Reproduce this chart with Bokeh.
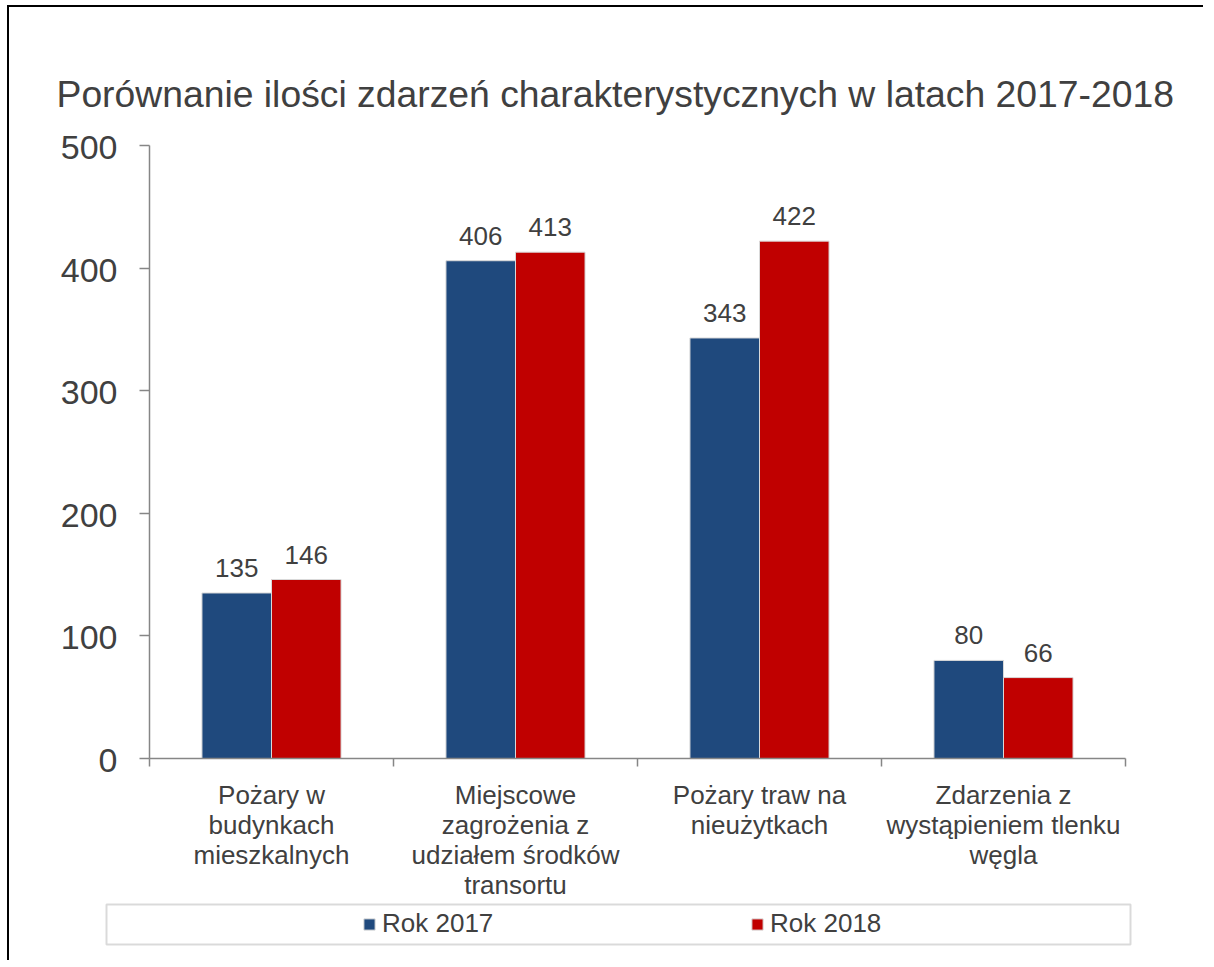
from bokeh.plotting import figure
from bokeh.models import (ColumnDataSource, FixedTicker, Range1d, Legend, LegendItem,
                          BoxAnnotation)
from bokeh.core.properties import value
from bokeh.embed import file_html
from bokeh.resources import INLINE

# ---- data ----
categories = [
    "Pożary w\nbudynkach\nmieszkalnych",
    "Miejscowe\nzagrożenia z\nudziałem środków\ntransortu",
    "Pożary traw na\nnieużytkach",
    "Zdarzenia z\nwystąpieniem tlenku\nwęgla",
]
series_names = ["Rok 2017", "Rok 2018"]
values_2017 = [135, 406, 343, 80]
values_2018 = [146, 413, 422, 66]
y_ticks = [0, 100, 200, 300, 400, 500]
y_tick_labels = ["0", "100", "200", "300", "400", "500"]
y_max = 500

TITLE = "Porównanie ilości zdarzeń charakterystycznych w latach 2017-2018"
FONT = "Liberation Sans"
TXT = "#404040"
AXC = "#868686"
BLUE = "#1F497D"
RED = "#C00000"

# ---- layout (pixels) ----
W, H = 1196, 955
TOP_PAD = 26        # px of frame above the 500 tick
MB_L, MB_T, MB_B = 40, 138 - TOP_PAD, 15
FRAME_W = 1090
MB_R = W - MB_L - FRAME_W
FRAME_H = H - MB_T - MB_B
AX_X0 = 100         # px from frame left to the y axis
CAT_PX = 244        # px per category
PX_PER_UNIT = 613 / y_max

n = len(categories)
x0 = -AX_X0 / CAT_PX
x1 = x0 + FRAME_W / CAT_PX
y1 = y_max + TOP_PAD / PX_PER_UNIT
y0 = y1 - FRAME_H / PX_PER_UNIT

centers = [i + 0.5 for i in range(n)]
bw = 0.285

src17 = ColumnDataSource(dict(x=[c - bw / 2 for c in centers], top=values_2017,
                              lab=[str(v) for v in values_2017]))
src18 = ColumnDataSource(dict(x=[c + bw / 2 for c in centers], top=values_2018,
                              lab=[str(v) for v in values_2018]))
srccat = ColumnDataSource(dict(x=centers, y=[0] * n, lab=categories))
srcy = ColumnDataSource(dict(x=[0] * len(y_ticks), y=y_ticks, lab=y_tick_labels))

p = figure(width=W, height=H, output_backend="svg", toolbar_location=None,
           x_range=Range1d(x0, x1), y_range=Range1d(y0, y1),
           min_border_left=MB_L, min_border_top=MB_T, min_border_right=MB_R,
           min_border_bottom=MB_B,
           background_fill_color="white", border_fill_color="white")
p.outline_line_color = None
p.styles = {"border-left": "2px solid black", "border-top": "2px solid black",
            "margin-left": "7px", "margin-top": "5px"}

p.title.text = TITLE
p.title.text_font = FONT
p.title.text_font_size = "37.3px"
p.title.text_font_style = "normal"
p.title.text_color = TXT
p.title.align = "left"
p.title.offset = 7
p.title.standoff = 9

r17 = p.vbar(x="x", top="top", width=bw, source=src17, fill_color=BLUE,
             line_color="#d9d9d9", line_width=1)
r18 = p.vbar(x="x", top="top", width=bw, source=src18, fill_color=RED,
             line_color="#d9d9d9", line_width=1)

for s in (src17, src18):
    p.text(x="x", y="top", text="lab", source=s, text_align="center",
           text_baseline="middle", y_offset=-25, text_font=value(FONT),
           text_font_size="26px", text_color=TXT)

# category labels under the axis
p.text(x="x", y="y", text="lab", source=srccat, text_align="center",
       text_baseline="top", y_offset=21, text_font=value(FONT),
       text_font_size="26px", text_color=TXT, text_line_height=1.0)

# y tick labels
p.text(x="x", y="y", text="lab", source=srcy, text_align="right",
       text_baseline="middle", x_offset=-32, y_offset=2, text_font=value(FONT),
       text_font_size="34px", text_color=TXT)

p.xgrid.visible = False
p.ygrid.visible = False

# y axis
ya = p.yaxis[0]
ya.ticker = FixedTicker(ticks=y_ticks)
ya.fixed_location = 0
ya.bounds = (0, y_max)
ya.major_label_overrides = {t: "" for t in y_ticks}
ya.major_label_text_font_size = "0px"
ya.major_label_standoff = 0
ya.axis_line_color = AXC
ya.axis_line_width = 1.5
ya.major_tick_line_color = AXC
ya.major_tick_line_width = 1.5
ya.major_tick_out = 10
ya.major_tick_in = 0
ya.minor_tick_line_color = None

# x axis
xa = p.xaxis[0]
xa.ticker = FixedTicker(ticks=list(range(n + 1)))
xa.fixed_location = 0
xa.bounds = (0, n)
xa.major_label_overrides = {i: "" for i in range(n + 1)}
xa.major_label_text_font_size = "0px"
xa.major_label_standoff = 0
xa.axis_line_color = AXC
xa.axis_line_width = 1.5
xa.major_tick_line_color = AXC
xa.major_tick_line_width = 1.5
xa.major_tick_out = 8
xa.major_tick_in = 0
xa.minor_tick_line_color = None

# legend frame
box = BoxAnnotation(left=(107 - 150) / CAT_PX, right=(1131 - 150) / CAT_PX,
                    top=-(905 - 759) / PX_PER_UNIT, bottom=-(945 - 759) / PX_PER_UNIT,
                    fill_color=None, line_color=AXC, line_width=2)
p.add_layout(box)

legend = Legend(items=[LegendItem(label=series_names[0], renderers=[r17]),
                       LegendItem(label=series_names[1], renderers=[r18])],
                orientation="horizontal", location=(363 - 50, 8),
                padding=0, margin=0, spacing=248, border_line_color=None,
                background_fill_alpha=0, glyph_width=14, glyph_height=14,
                label_standoff=6, label_width=120, label_text_font=FONT,
                label_text_font_size="26px", label_text_color=TXT)
p.add_layout(legend, "center")

open("out.html", "w").write(file_html(p, INLINE))
